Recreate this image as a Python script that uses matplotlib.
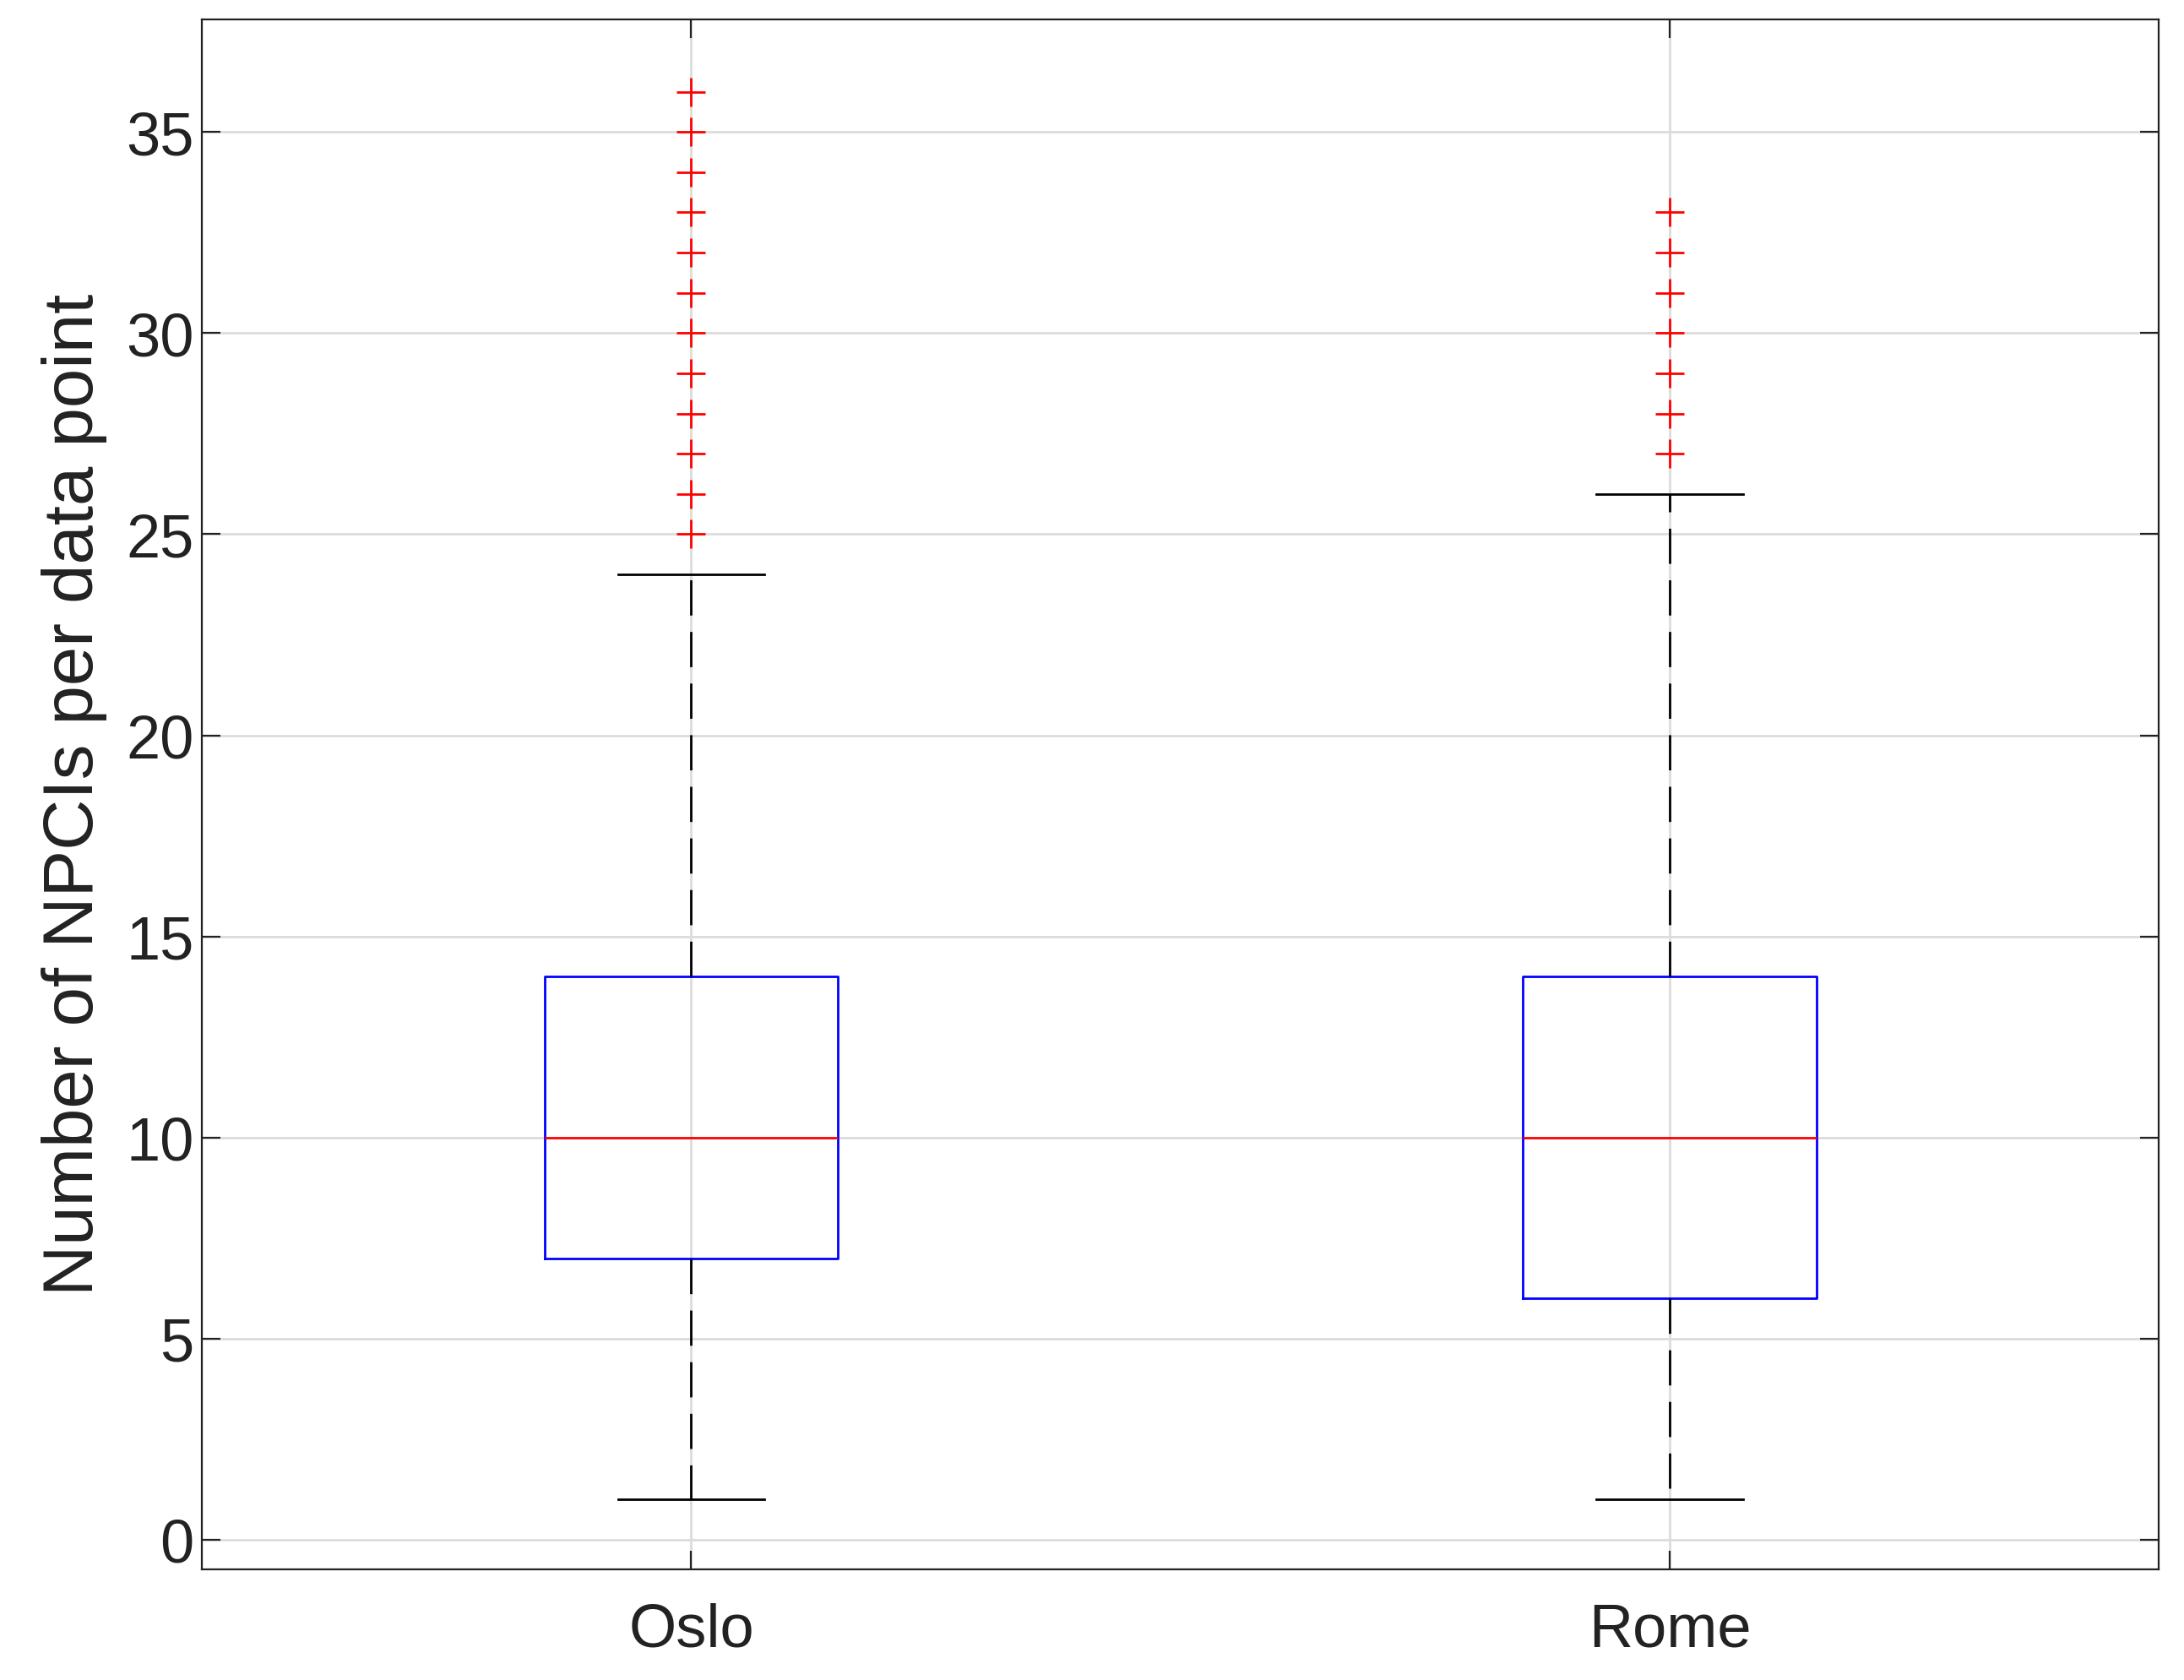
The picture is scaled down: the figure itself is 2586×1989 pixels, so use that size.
import matplotlib
matplotlib.use("Agg")
import matplotlib.pyplot as plt

plt.rcParams["font.family"] = ["Liberation Sans", "DejaVu Sans"]

cities = ["Oslo", "Rome"]
medians = [10, 10]
q1 = [7, 6]
q3 = [14, 14]
whis_lo = [1, 1]
whis_hi = [24, 26]
outliers = [
    [25, 26, 27, 28, 29, 30, 31, 32, 33, 34, 35, 36],
    [27, 28, 29, 30, 31, 32, 33],
]

stats = []
for i, name in enumerate(cities):
    stats.append({"label": name, "med": medians[i], "q1": q1[i], "q3": q3[i],
                  "whislo": whis_lo[i], "whishi": whis_hi[i], "fliers": outliers[i]})

fig = plt.figure(figsize=(12.93, 9.95), dpi=200)
ax = fig.add_axes([0.0925, 0.066, 0.896, 0.922])
ax.bxp(stats, positions=[1, 2], widths=0.3, showfliers=True,
       boxprops=dict(color="blue", linewidth=1.0),
       medianprops=dict(color="red", linewidth=1.0),
       whiskerprops=dict(color="black", linewidth=1.0, linestyle=(0, (15, 7))),
       capprops=dict(color="black", linewidth=1.0),
       capwidths=0.15,
       flierprops=dict(marker="+", markeredgecolor="red", markersize=12,
                       markeredgewidth=1.0, linestyle="none"))
ax.set_xlim(0.5, 2.5)
ax.set_ylim(-0.73, 37.8)
ax.set_yticks(range(0, 36, 5))
ax.grid(True, color="#dcdcdc", linewidth=1.0)
ax.set_axisbelow(True)
ax.tick_params(direction="in", length=8, labelsize=26, top=True, right=True,
               colors="#222222")
ax.tick_params(axis="x", pad=14)
for s in ax.spines.values():
    s.set_color("#222222")
ax.set_ylabel("Number of NPCIs per data point", fontsize=30, color="#222222",
              labelpad=8)
fig.savefig("out.png", dpi=200)
